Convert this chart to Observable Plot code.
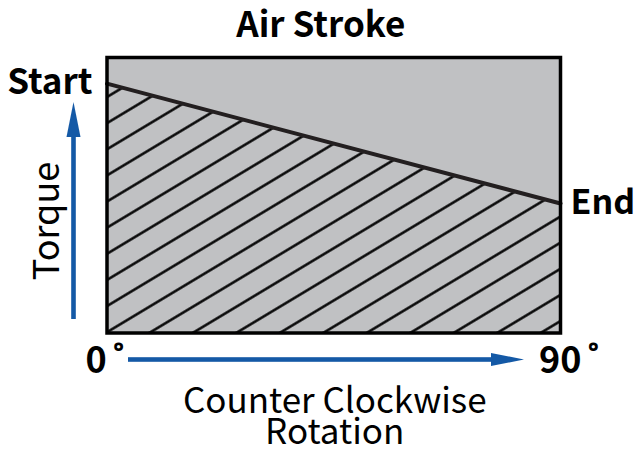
<!DOCTYPE html>
<html><head><meta charset="utf-8">
<script src="https://cdn.jsdelivr.net/npm/d3@7"></script>
<script src="https://cdn.jsdelivr.net/npm/@observablehq/plot@0.6"></script>
<style>body{margin:0;background:#fff;}</style>
</head><body><div id="chart"></div>
<script>
const angles = [0, 90];
const torque = [90.5, 47];
const endLabels = ["Start", "End"];
const tickValues = [0, 90];
const tickLabels = ["0\u2006˚", "90\u2006˚"];
const titleText = "Air Stroke";
const xLabelLines = ["Counter Clockwise", "Rotation"];
const yLabel = "Torque";

const curve = angles.map((a, i) => ({angle: a, torque: torque[i], label: endLabels[i]}));
const ticks = tickValues.map((v, i) => ({value: v, label: tickLabels[i]}));
const FONT = "'Noto Sans CJK SC', 'Noto Sans', sans-serif";

const plot = Plot.plot({
  width: 634, height: 453,
  marginLeft: 106.5, marginRight: 74, marginTop: 57, marginBottom: 120.5,
  x: {domain: [0, 90], axis: null},
  y: {domain: [0, 100], axis: null},
  style: {fontFamily: FONT, background: "#fff", color: "#000", overflow: "visible"},
  marks: [
    Plot.frame({fill: "#c0c1c3"}),
    Plot.areaY(curve, {x: "angle", y: "torque", fill: "url(#hatch)"}),
    Plot.lineY(curve, {x: "angle", y: "torque", stroke: "#231f20", strokeWidth: 4}),
    Plot.frame({stroke: "#000", strokeWidth: 3.5}),
    Plot.text([curve[0]], {x: "angle", y: "torque", text: "label", textAnchor: "end", lineAnchor: "bottom", dx: -14.5, dy: 10, fontSize: 35, fontWeight: "bold"}),
    Plot.text([curve[1]], {x: "angle", y: "torque", text: "label", textAnchor: "start", lineAnchor: "bottom", dx: 10, dy: 10, fontSize: 34, fontWeight: "bold"}),
    Plot.text(ticks, {x: "value", text: "label", frameAnchor: "bottom", textAnchor: "start", lineAnchor: "bottom", dx: -21.5, dy: 39.5, fontSize: 36, fontWeight: "bold"}),
    Plot.text([titleText], {frameAnchor: "top", text: d => d, lineAnchor: "bottom", dy: -20.3, dx: -13, fontSize: 35, fontWeight: "bold"}),
    Plot.text([xLabelLines[0]], {frameAnchor: "bottom", text: d => d, lineAnchor: "bottom", dy: 79.5, dx: 1, fontSize: 35}),
    Plot.text([xLabelLines[1]], {frameAnchor: "bottom", text: d => d, lineAnchor: "bottom", dy: 110.5, dx: 1, fontSize: 35}),
    Plot.text([yLabel], {frameAnchor: "left", text: d => d, rotate: -90, textAnchor: "middle", lineAnchor: "bottom", dx: -48.5, dy: 25.75, fontSize: 36})
  ]
});
document.getElementById("chart").appendChild(plot);

const svg = d3.select(plot);
const xs = plot.scale("x"), ys = plot.scale("y");
const x0 = xs.apply(0), y0 = ys.apply(0), x1 = xs.apply(90), yTop = ys.apply(100);
const spacing = 22.4, angle = -31;
const defs = svg.insert("defs", ":first-child");
const pat = defs.append("pattern").attr("id", "hatch").attr("patternUnits", "userSpaceOnUse")
  .attr("width", 40).attr("height", spacing)
  .attr("patternTransform", `translate(${x0},${y0}) rotate(${angle}) translate(0,${-spacing / 2})`);
pat.append("line").attr("x1", -5).attr("x2", 45).attr("y1", spacing / 2).attr("y2", spacing / 2)
  .attr("stroke", "#000").attr("stroke-width", 2.4);

const blue = "#1459a6";
const g = svg.append("g").attr("fill", blue);
// horizontal arrow
const hy = y0 + 27, hx1 = x0 + 21.5, hx2 = x1 - 69;
g.append("rect").attr("x", hx1).attr("y", hy - 2.3).attr("width", hx2 - hx1 + 2).attr("height", 4.6);
g.append("path").attr("d", `M${hx2},${hy - 6.5}L${hx2 + 33},${hy}L${hx2},${hy + 6.5}Z`);
// vertical arrow
const vx = x0 - 33, vb = y0 - 13.5, vh = yTop + 80;
g.append("rect").attr("x", vx - 2.3).attr("y", vh - 2).attr("width", 4.6).attr("height", vb - vh + 2);
g.append("path").attr("d", `M${vx - 7},${vh}L${vx},${vh - 35}L${vx + 7},${vh}Z`);
</script>
</body></html>
